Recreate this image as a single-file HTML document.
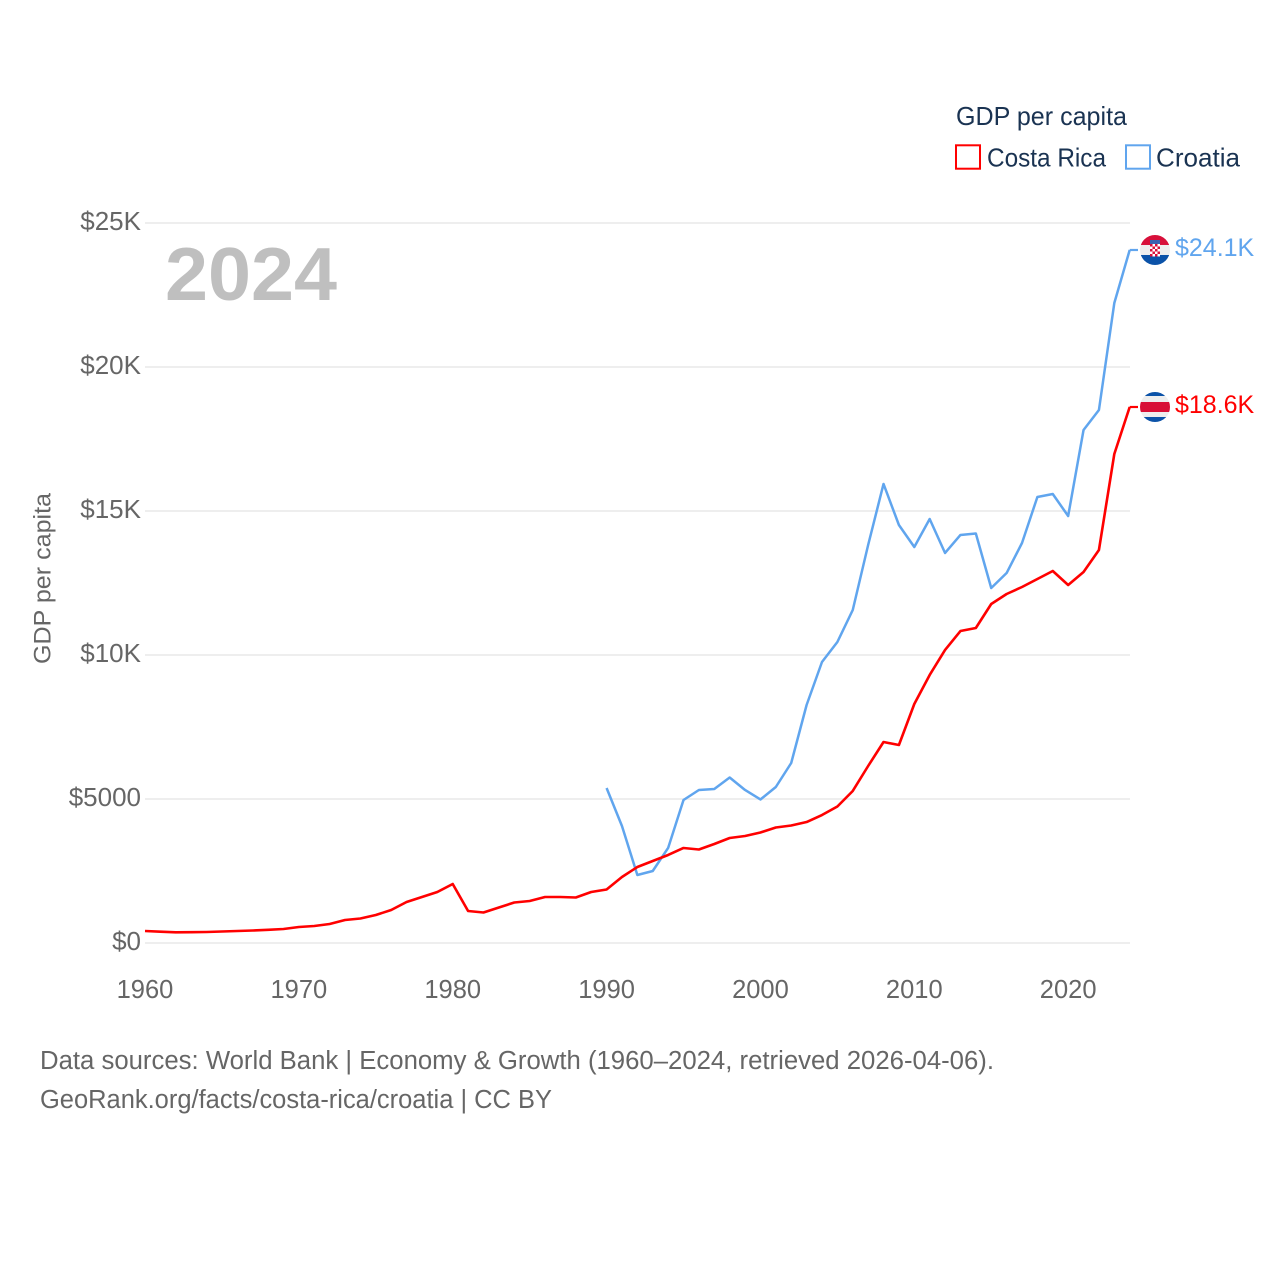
<!DOCTYPE html>
<html lang="en">
<head>
<meta charset="utf-8">
<title>GDP per capita: Costa Rica and Croatia</title>
<style>
  html, body { margin: 0; padding: 0; background: #fff; }
  svg { display: block; font-family: "Liberation Sans", sans-serif; }
</style>
</head>
<body>
<svg id="chart" xmlns="http://www.w3.org/2000/svg" width="1280" height="1280" viewBox="0 0 1280 1280">
  <defs>
    <clipPath id="flag-clip"><circle cx="0" cy="0" r="15"></circle></clipPath>
  </defs>
  <rect x="0" y="0" width="1280" height="1280" fill="#ffffff"></rect>
  <g id="grid"></g>
  <g id="y-ticks"></g>
  <g id="x-ticks"></g>
  <text x="165" y="300" font-size="75" font-weight="700" fill="#bfbfbf" textLength="172" lengthAdjust="spacingAndGlyphs">2024</text>
  <text transform="translate(50.5,664) rotate(-90)" font-size="24" fill="#666666" textLength="171" lengthAdjust="spacingAndGlyphs">GDP per capita</text>
  <g id="series"></g>
  <g id="ends"></g>

  <g>
    <text x="956" y="125" font-size="26" fill="#1a3352" textLength="171" lengthAdjust="spacingAndGlyphs">GDP per capita</text>
    <g>
      <rect x="956" y="145.3" width="24" height="23.4" fill="none" stroke="#ff0000" stroke-width="2"></rect>
      <text x="987" y="166.5" font-size="26" fill="#1a3352" textLength="119" lengthAdjust="spacingAndGlyphs">Costa Rica</text>
    </g>
    <g>
      <rect x="1126" y="145.3" width="24" height="23.4" fill="none" stroke="#60a5ee" stroke-width="2"></rect>
      <text x="1156" y="166.5" font-size="26" fill="#1a3352" textLength="84" lengthAdjust="spacingAndGlyphs">Croatia</text>
    </g>
  </g>

  <g>
    <text x="40" y="1069" font-size="25.5" fill="#666666" textLength="954" lengthAdjust="spacingAndGlyphs">Data sources: World Bank | Economy &amp; Growth (1960–2024, retrieved 2026-04-06).</text>
    <text x="40" y="1108" font-size="25.5" fill="#666666" textLength="512" lengthAdjust="spacingAndGlyphs">GeoRank.org/facts/costa-rica/croatia | CC BY</text>
  </g>
</svg>

<script>
const firstYear = 1960;
const lastYear = 2024;
const croatiaFirstYear = 1990;
const xTickYears = [1960, 1970, 1980, 1990, 2000, 2010, 2020];
const yTickValues = [0, 5000, 10000, 15000, 20000, 25000];
const yTickLabels = ['$0', '$5000', '$10K', '$15K', '$20K', '$25K'];
const costaRicaValues = [417, 392, 372, 375, 382, 399, 417, 434, 458, 486,
  556, 590, 660, 799, 851, 972, 1146, 1424, 1597, 1771,
  2049, 1111, 1059, 1233, 1406, 1458, 1597, 1597, 1580, 1771,
  1858, 2292, 2639, 2847, 3056, 3299, 3247, 3438, 3646, 3715,
  3837, 4010, 4080, 4201, 4444, 4740, 5278, 6146, 6979, 6875,
  8299, 9306, 10174, 10833, 10938, 11771, 12118, 12361, 12639, 12917,
  12431, 12882, 13646, 16979, 18611];
const croatiaValues = [5382, 4063, 2361, 2500, 3299, 4965, 5313, 5347, 5747, 5313,
  4983, 5417, 6250, 8264, 9757, 10451, 11563, 13819, 15938, 14514,
  13750, 14722, 13542, 14167, 14219, 12326, 12847, 13889, 15486, 15590,
  14826, 17813, 18507, 22222, 24063];
const costaRicaEndLabel = '$18.6K';
const croatiaEndLabel = '$24.1K';

const SVG_NS = 'http://www.w3.org/2000/svg';
const RED = '#ff0000';
const BLUE = '#60a5ee';

function xScale(year) {
  return 145 + (year - firstYear) * (1129.7 - 145) / (lastYear - firstYear);
}
function yScale(value) {
  return 943 - value * (943 - 223) / 25000;
}
function make(tag, attrs, parent) {
  const el = document.createElementNS(SVG_NS, tag);
  Object.keys(attrs).forEach(function (k) { el.setAttribute(k, attrs[k]); });
  parent.appendChild(el);
  return el;
}

const gridGroup = document.getElementById('grid');
const yTickGroup = document.getElementById('y-ticks');
const xTickGroup = document.getElementById('x-ticks');
const seriesGroup = document.getElementById('series');
const endsGroup = document.getElementById('ends');

yTickValues.forEach(function (v, i) {
  const line = make('line', { x1: 145, x2: 1130, y1: yScale(v), y2: yScale(v), stroke: '#eeeeee', 'stroke-width': 2 }, gridGroup);
  
  
  const label = make('text', { x: 141, y: yScale(v) + 7, 'text-anchor': 'end', 'font-size': 26, fill: '#666666' }, yTickGroup);
  label.textContent = yTickLabels[i];
  
  
});

xTickYears.forEach(function (yr) {
  const label = make('text', { x: xScale(yr), y: 998, 'text-anchor': 'middle', 'font-size': 25.5, fill: '#666666' }, xTickGroup);
  label.textContent = String(yr);
  
  
});

function pathFor(values, startYear) {
  return values.map(function (v, i) {
    return (i ? 'L' : 'M') + xScale(startYear + i).toFixed(2) + ' ' + yScale(v).toFixed(2);
  }).join(' ');
}

const croatiaLine = make('path', { d: pathFor(croatiaValues, croatiaFirstYear), fill: 'none', stroke: BLUE, 'stroke-width': 2.5, 'stroke-linejoin': 'round' }, seriesGroup);



const costaRicaLine = make('path', { d: pathFor(costaRicaValues, firstYear), fill: 'none', stroke: RED, 'stroke-width': 2.6, 'stroke-linejoin': 'round' }, seriesGroup);



function endMarker(lastValue, color, text) {
  const y = yScale(lastValue);
  const g = make('g', { transform: 'translate(0,' + y.toFixed(2) + ')' }, endsGroup);
  make('line', { x1: xScale(lastYear), x2: 1138, y1: 0, y2: 0, stroke: color, 'stroke-width': 2.2 }, g);
  const label = make('text', { x: 1175, y: 6, 'font-size': 25, fill: color }, g);
  label.textContent = text;
  const flag = make('g', { transform: 'translate(1155,0)', 'clip-path': 'url(#flag-clip)' }, g);
  return { group: g, label: label, flag: flag };
}

function band(parent, y, h, fill) {
  make('rect', { x: -15, y: y, width: 30, height: h, fill: fill }, parent);
}

const croatiaEnd = endMarker(croatiaValues[croatiaValues.length - 1], BLUE, croatiaEndLabel);






band(croatiaEnd.flag, -15, 10, '#d8103a');
band(croatiaEnd.flag, -5, 10, '#eeeeee');
band(croatiaEnd.flag, 5, 10, '#0b52a8');
make('rect', { x: -5, y: -10, width: 10, height: 4, fill: '#3a63b0' }, croatiaEnd.flag);
make('rect', { x: -5, y: -6, width: 10, height: 12.5, fill: '#ffffff' }, croatiaEnd.flag);
for (let r = 0; r < 5; r++) {
  for (let c = 0; c < 4; c++) {
    if ((r + c) % 2 === 0) {
      make('rect', { x: -5 + c * 2.5, y: -6 + r * 2.5, width: 2.5, height: 2.5, fill: '#d8103a' }, croatiaEnd.flag);
    }
  }
}

const costaRicaEnd = endMarker(costaRicaValues[costaRicaValues.length - 1], RED, costaRicaEndLabel);






band(costaRicaEnd.flag, -15, 4, '#0b52a8');
band(costaRicaEnd.flag, -11, 6, '#eeeeee');
band(costaRicaEnd.flag, -5, 10, '#d80f36');
band(costaRicaEnd.flag, 5, 5, '#eeeeee');
band(costaRicaEnd.flag, 10, 5, '#0b52a8');
</script>
</body>
</html>
